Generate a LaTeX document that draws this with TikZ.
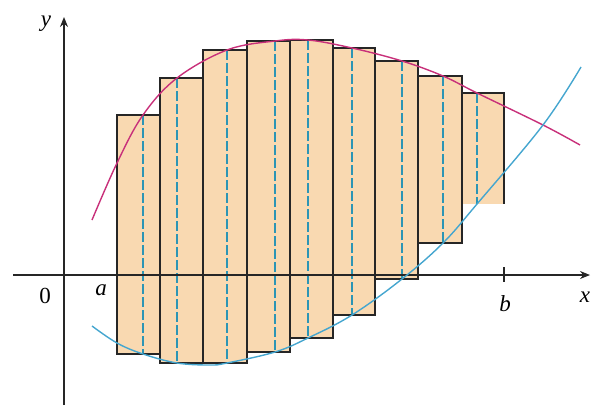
\documentclass[tikz,border=0pt]{standalone}
\usepackage{fontspec}
\setmainfont{Liberation Serif}
\usetikzlibrary{arrows.meta}
\definecolor{fillpeach}{HTML}{F9D9B1}
\definecolor{curvepink}{HTML}{C8307A}
\definecolor{curveblue}{HTML}{45A6CF}
\definecolor{dashteal}{HTML}{2C95B5}
\tikzset{
  rectfill/.style={fill=fillpeach, draw=none},
  rectline/.style={draw=black!85, line width=1.3pt, line join=miter},
  samplestyle/.style={draw=dashteal, line width=1.2pt, dash pattern=on 10pt off 3pt},
  axisstyle/.style={draw=black!85, line width=1.1pt},
  lbl/.style={inner sep=0pt, font=\fontsize{23}{26}\selectfont},
}
\begin{document}
\begin{tikzpicture}[x=1pt,y=-1pt]
\useasboundingbox (0,0) rectangle (591,405);
% rectangles: left, right, top, bottom, sample x
\foreach \l/\r/\t/\b/\s [count=\i] in {117/160/115/354/143, 160/203/78/363/177, 203/247/50/363/227, 247/290/41/352/275, 290/333/40/338/308, 333/375/48/315/352, 375/418/61/279/402, 418/462/76/243/443, 462/504/93/204/477}{
  \path[rectfill] (\l,\t) rectangle (\r,\b);
}
\foreach \l/\r/\t/\b/\s [count=\i] in {117/160/115/354/143, 160/203/78/363/177, 203/247/50/363/227, 247/290/41/352/275, 290/333/40/338/308, 333/375/48/315/352, 375/418/61/279/402, 418/462/76/243/443, 462/504/93/204/477}{
  \coordinate (top\i) at (\s,\t);
  \coordinate (bot\i) at (\s,\b);
  \draw[samplestyle] (top\i) -- (bot\i);
}
% axes
\coordinate (xs) at (13,275);
\coordinate (xe) at (590,275);
\coordinate (ys) at (64,405);
\coordinate (ye) at (64,17);
\draw[axisstyle, -{Stealth[length=10pt,width=8pt]}] (xs) -- (xe);
\draw[axisstyle, -{Stealth[length=10pt,width=8pt]}] (ys) -- (ye);
\coordinate (bt1) at (504,267);
\coordinate (bt2) at (504,282);
\draw[axisstyle] (bt1) -- (bt2);
% rectangle outlines
\foreach \l/\r/\t/\b in {117/160/115/354, 160/203/78/363, 203/247/50/363, 247/290/41/352, 290/333/40/338, 333/375/48/315, 375/418/61/279, 418/462/76/243}{
  \draw[rectline] (\l,\t) rectangle (\r,\b);
}
\draw[rectline] (462,204) -- (462,93) -- (504,93) -- (504,204);
% curves
\draw[curvepink, line width=1.4pt] plot[smooth, tension=0.6] coordinates {(92,220) (117,163) (143,115) (177,78) (227,50) (275,41) (308,40) (352,48) (402,61) (443,76) (477,93) (543,125) (580,145)};
\draw[curveblue, line width=1.4pt] plot[smooth, tension=0.6] coordinates {(92,326) (117,343) (143,354) (177,363) (210,365) (227,363) (275,352) (308,338) (352,315) (402,279) (443,243) (477,204) (543,125) (581,67)};
% labels
\node[lbl] (ly) at (46,24) {\textit{y}};
\node[lbl] (lx) at (585,297) {\textit{x}};
\node[lbl] (l0) at (45,296) {0};
\node[lbl] (la) at (101,290) {\textit{a}};
\node[lbl] (lb) at (505,304) {\textit{b}};
\end{tikzpicture}
\end{document}
